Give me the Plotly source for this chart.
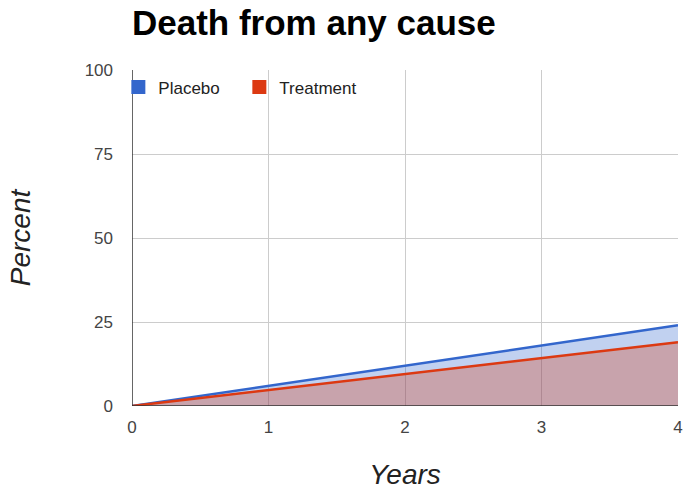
import plotly.graph_objects as go

years = [0, 1, 2, 3, 4]
placebo = [0, 6, 12, 18, 24]
treatment = [0, 4.75, 9.5, 14.25, 19]
y_ticks = [0, 25, 50, 75, 100]
x_ticks = [0, 1, 2, 3, 4]

blue = "#3366cc"
red = "#dc3912"

fig = go.Figure()
fig.add_trace(go.Scatter(
    x=years, y=placebo, mode="lines", name="Placebo",
    line=dict(color=blue, width=2.5), fill="tozeroy",
    fillcolor="rgba(51,102,204,0.3)", showlegend=False))
fig.add_trace(go.Scatter(
    x=years, y=treatment, mode="lines", name="Treatment",
    line=dict(color=red, width=2.5), fill="tozeroy",
    fillcolor="rgba(220,57,18,0.3)", showlegend=False))

# legend swatches
for name, col in [("Placebo", blue), ("Treatment", red)]:
    fig.add_trace(go.Scatter(
        x=[None], y=[None], mode="markers", name=name,
        marker=dict(symbol="square", size=14, color=col)))

fig.update_layout(
    width=683, height=493,
    margin=dict(l=132, r=5, t=70, b=87, autoexpand=False),
    paper_bgcolor="white", plot_bgcolor="white",
    font=dict(family="Arial, Liberation Sans, sans-serif", color="#222"),
    title=dict(text="<b>Death from any cause</b>", x=132 / 683, xanchor="left",
               y=1 - 23 / 493, yanchor="middle",
               font=dict(size=35, color="black")),
    legend=dict(orientation="h", x=-0.025, y=1.002, xanchor="left", yanchor="top",
                bgcolor="rgba(255,255,255,0)", font=dict(size=17, color="#222"),
                itemwidth=30, tracegroupgap=0,
                entrywidth=76, entrywidthmode="pixels"),
    xaxis=dict(range=[0, 4], tickvals=x_ticks, showgrid=True, automargin=False,
               gridcolor="#cccccc", gridwidth=1, zeroline=False,
               showline=False, ticks="", ticklabelstandoff=9,
               tickfont=dict(size=17, color="#444"),
               title=dict(text="<i>Years</i>", font=dict(size=28, color="#222"),
                          standoff=28)),
    yaxis=dict(range=[0, 100], tickvals=y_ticks, showgrid=True, automargin=False,
               gridcolor="#cccccc", gridwidth=1, zeroline=False,
               showline=False, ticks="", ticklabelstandoff=18,
               tickfont=dict(size=17, color="#444"),
               title=dict(text="<i>Percent</i>", font=dict(size=28, color="#222"),
                          standoff=45)),
)

# dark baseline and left axis
fig.add_shape(type="line", xref="x", yref="y", x0=0, x1=4, y0=0, y1=0,
              line=dict(color="#333", width=1.5))
fig.add_shape(type="line", xref="x", yref="y", x0=0, x1=0, y0=0, y1=100,
              line=dict(color="#333", width=1.5))

fig.write_html("out.html")
